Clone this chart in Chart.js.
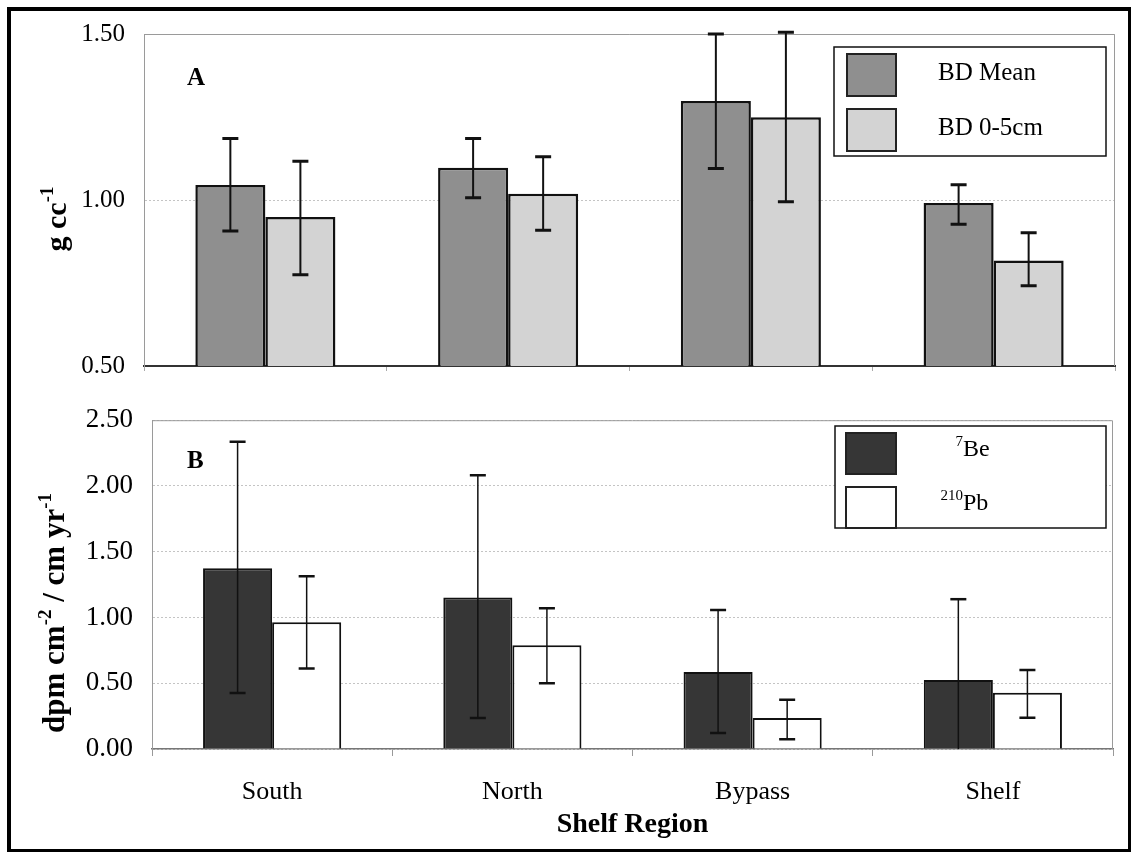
<!DOCTYPE html>
<html><head><meta charset="utf-8">
<script src="https://cdn.jsdelivr.net/npm/chart.js@4.4.1/dist/chart.umd.min.js"></script>
<style>
html,body{margin:0;padding:0;background:#fff;}
#wrap{position:relative;width:1133px;height:853px;overflow:hidden;background:#fff;}
#frame{position:absolute;left:7px;top:7px;width:1117px;height:838px;border-left:4px solid #000;border-top:4px solid #000;border-right:3px solid #000;border-bottom:3px solid #000;pointer-events:none;}
#cA{position:absolute;left:0;top:0;}
#cB{position:absolute;left:0;top:385px;}
</style></head>
<body>
<div id="wrap">
<canvas id="cA" width="1133" height="400" style="width:1133px;height:400px"></canvas>
<canvas id="cB" width="1133" height="468" style="width:1133px;height:468px"></canvas>
<div id="frame"></div>
</div>
<script>
// ---- data ----
const categories = ['South', 'North', 'Bypass', 'Shelf'];
const bdMean     = [1.045, 1.097, 1.298, 0.991];
const bdMeanLow  = [0.907, 1.007, 1.095, 0.927];
const bdMeanHigh = [1.185, 1.185, 1.500, 1.046];
const bd05       = [0.949, 1.019, 1.249, 0.818];
const bd05Low    = [0.775, 0.909, 0.995, 0.742];
const bd05High   = [1.117, 1.130, 1.505, 0.901];
const be7        = [1.374, 1.151, 0.586, 0.525];
const be7Low     = [0.426, 0.235, 0.122, 0.000];
const be7High    = [2.337, 2.082, 1.056, 1.139];
const pb210      = [0.963, 0.788, 0.235, 0.428];
const pb210Low   = [0.613, 0.500, 0.075, 0.238];
const pb210High  = [1.314, 1.071, 0.375, 0.600];
const ticksA = [0.5, 1.0, 1.5];
const ticksB = [0, 0.5, 1.0, 1.5, 2.0, 2.5];
const legendA = ['BD Mean', 'BD 0-5cm'];
const legendB = [['7', 'Be'], ['210', 'Pb']];
const titleA = [['g cc', false], ['-1', true]];
const titleB = [['dpm cm', false], ['-2', true], [' / cm yr', false], ['-1', true]];
const xTitle = 'Shelf Region';

const FAM = '"Liberation Serif", "Times New Roman", serif';
function font(size, bold) { return (bold ? 'bold ' : '') + size + 'px ' + FAM; }

function drawRich(ctx, parts, size, bold) {
  const supSize = Math.round(size * 0.62);
  const widths = parts.map(p => { ctx.font = font(p[1] ? supSize : size, bold); return ctx.measureText(p[0]).width; });
  const total = widths.reduce((a, b) => a + b, 0);
  let x = -total / 2;
  ctx.textBaseline = 'alphabetic';
  ctx.textAlign = 'left';
  parts.forEach((p, i) => {
    ctx.font = font(p[1] ? supSize : size, bold);
    ctx.fillText(p[0], x, p[1] ? -size * 0.42 : 0);
    x += widths[i];
  });
}

const errorBars = {
  id: 'errorBars',
  afterDatasetsDraw(chart, args, opts) {
    const ctx = chart.ctx, ys = chart.scales.y;
    chart.data.datasets.forEach((ds, i) => {
      const meta = chart.getDatasetMeta(i);
      meta.data.forEach((bar, j) => {
        const lo = ds.errLow[j], hi = ds.errHigh[j];
        const x = bar.x;
        const yl = ys.getPixelForValue(Math.max(lo, ys.min));
        const yh = ys.getPixelForValue(hi);
        ctx.save();
        ctx.strokeStyle = '#111';
        ctx.lineWidth = opts.line;
        ctx.beginPath(); ctx.moveTo(x, yl); ctx.lineTo(x, yh); ctx.stroke();
        ctx.lineWidth = opts.cap;
        ctx.beginPath();
        ctx.moveTo(x - 8, yh); ctx.lineTo(x + 8, yh);
        if (lo > ys.min) { ctx.moveTo(x - 8, yl); ctx.lineTo(x + 8, yl); }
        ctx.stroke();
        ctx.restore();
      });
    });
  }
};

const plotFrame = {
  id: 'plotFrame',
  beforeDatasetsDraw(chart) {
    const a = chart.chartArea, ctx = chart.ctx;
    ctx.save();
    ctx.strokeStyle = '#9a9a9a';
    ctx.lineWidth = 1;
    ctx.beginPath();
    ctx.moveTo(a.left + 0.5, a.bottom); ctx.lineTo(a.left + 0.5, a.top + 0.5);
    ctx.lineTo(a.right - 0.5, a.top + 0.5); ctx.lineTo(a.right - 0.5, a.bottom);
    ctx.stroke();
    ctx.restore();
  }
};

const decoA = {
  id: 'decoA',
  afterDraw(chart) {
    const ctx = chart.ctx;
    ctx.save();
    ctx.fillStyle = '#000';
    ctx.font = font(25, true); ctx.textAlign = 'left'; ctx.textBaseline = 'alphabetic';
    ctx.fillText('A', 187, 85);
    ctx.save(); ctx.translate(66, 219); ctx.rotate(-Math.PI / 2);
    drawRich(ctx, titleA, 30, true); ctx.restore();
    ctx.fillStyle = '#fff'; ctx.fillRect(834, 47, 272, 109);
    ctx.strokeStyle = '#111'; ctx.lineWidth = 1.5; ctx.strokeRect(834, 47, 272, 109);
    const cols = [chart.data.datasets[0].backgroundColor, chart.data.datasets[1].backgroundColor];
    const ys = [54, 109];
    legendA.forEach((t, i) => {
      ctx.fillStyle = cols[i]; ctx.fillRect(847, ys[i], 49, 42);
      ctx.strokeStyle = '#222'; ctx.lineWidth = 2; ctx.strokeRect(847, ys[i], 49, 42);
      ctx.fillStyle = '#000'; ctx.font = font(25, false); ctx.textAlign = 'left';
      ctx.fillText(t, 938, ys[i] + 26);
    });
    ctx.restore();
  }
};

const OFFB = 385;
const decoB = {
  id: 'decoB',
  afterDraw(chart) {
    const ctx = chart.ctx;
    ctx.save();
    ctx.fillStyle = '#000';
    ctx.font = font(25, true); ctx.textAlign = 'left'; ctx.textBaseline = 'alphabetic';
    ctx.fillText('B', 187, 468 - OFFB);
    ctx.save(); ctx.translate(64, 613 - OFFB); ctx.rotate(-Math.PI / 2);
    drawRich(ctx, titleB, 31, true); ctx.restore();
    ctx.fillStyle = '#fff'; ctx.fillRect(835, 426 - OFFB, 271, 102);
    ctx.strokeStyle = '#111'; ctx.lineWidth = 1.5; ctx.strokeRect(835, 426 - OFFB, 271, 102);
    const cols = [chart.data.datasets[0].backgroundColor, chart.data.datasets[1].backgroundColor];
    const ys = [433, 487];
    legendB.forEach((t, i) => {
      const y0 = ys[i] - OFFB;
      ctx.fillStyle = cols[i]; ctx.fillRect(846, y0, 50, 41);
      ctx.strokeStyle = '#222'; ctx.lineWidth = 2; ctx.strokeRect(846, y0, 50, 41);
      ctx.fillStyle = '#000';
      ctx.font = font(15, false); ctx.textAlign = 'right';
      ctx.fillText(t[0], 963, y0 + 13);
      ctx.font = font(24, false); ctx.textAlign = 'left';
      ctx.fillText(t[1], 963, y0 + 23);
    });
    ctx.restore();
  }
};

new Chart(document.getElementById('cA'), {
  type: 'bar',
  data: {
    labels: categories,
    datasets: [
      { label: legendA[0], data: bdMean, errLow: bdMeanLow, errHigh: bdMeanHigh, backgroundColor: '#8f8f8f', borderColor: '#111', borderWidth: 2.5 },
      { label: legendA[1], data: bd05, errLow: bd05Low, errHigh: bd05High, backgroundColor: '#d3d3d3', borderColor: '#111', borderWidth: 2.5 }
    ]
  },
  plugins: [plotFrame, errorBars, decoA],
  options: {
    responsive: false, animation: false,
    layout: { padding: { left: 0, right: 18, top: 34, bottom: 0 } },
    datasets: { bar: { categoryPercentage: 0.577, barPercentage: 1 } },
    plugins: { legend: { display: false }, tooltip: { enabled: false }, errorBars: { line: 2, cap: 3 } },
    scales: {
      x: {
        grid: { drawOnChartArea: false, tickLength: 5, color: '#aaa' },
        border: { color: '#333', width: 2 },
        ticks: { display: false },
        afterFit(s) { s.height = 23; }
      },
      y: {
        min: 0.5, max: 1.5,
        afterBuildTicks(s) { s.ticks = ticksA.map(v => ({ value: v })); },
        afterFit(s) { s.width = 144; },
        ticks: { padding: 19, color: '#000', font: { family: FAM, size: 25 }, callback: v => Number(v).toFixed(2) },
        grid: { color: '#c4c4c4', drawTicks: false },
        border: { color: '#9a9a9a', width: 1, dash: [2, 2] }
      }
    }
  }
});

new Chart(document.getElementById('cB'), {
  type: 'bar',
  data: {
    labels: categories,
    datasets: [
      { label: '7Be', data: be7, errLow: be7Low, errHigh: be7High, backgroundColor: '#363636', borderColor: '#111', borderWidth: 2 },
      { label: '210Pb', data: pb210, errLow: pb210Low, errHigh: pb210High, backgroundColor: '#ffffff', borderColor: '#111', borderWidth: 2 }
    ]
  },
  plugins: [plotFrame, errorBars, decoB],
  options: {
    responsive: false, animation: false,
    layout: { padding: { left: 0, right: 20, top: 32, bottom: 0 } },
    datasets: { bar: { categoryPercentage: 0.575, barPercentage: 1 } },
    plugins: { legend: { display: false }, tooltip: { enabled: false }, errorBars: { line: 1.5, cap: 2.5 } },
    scales: {
      x: {
        grid: { drawOnChartArea: false, tickLength: 7, color: '#999' },
        border: { color: '#777', width: 1.5 },
        ticks: { padding: 21, color: '#000', font: { family: FAM, size: 26 } },
        title: { display: true, text: xTitle, color: '#000', font: { family: FAM, size: 28, weight: 'bold' }, padding: { top: 0, bottom: 11 } },
        afterFit(s) { s.height = 104; }
      },
      y: {
        min: 0, max: 2.5,
        afterBuildTicks(s) { s.ticks = ticksB.map(v => ({ value: v })); },
        afterFit(s) { s.width = 152; },
        ticks: { padding: 19, color: '#000', font: { family: FAM, size: 27 }, callback: v => Number(v).toFixed(2) },
        grid: { color: '#c4c4c4', drawTicks: false },
        border: { color: '#9a9a9a', width: 1, dash: [2, 2] }
      }
    }
  }
});
</script>
</body></html>
